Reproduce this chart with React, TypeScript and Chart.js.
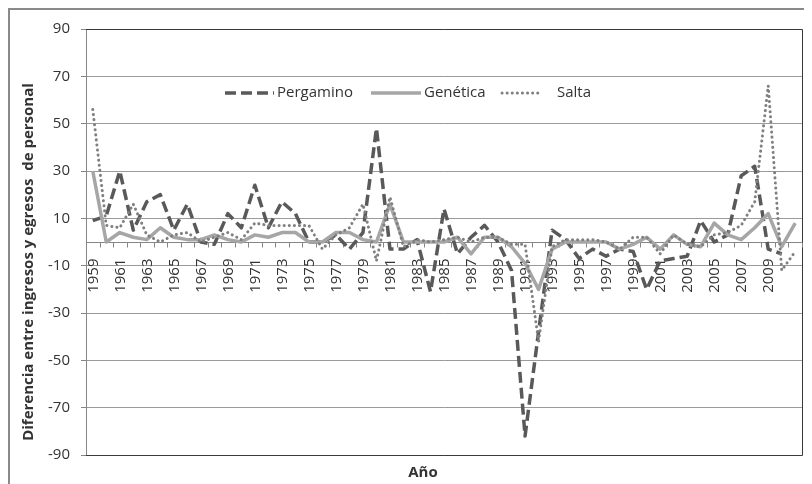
import React, { useEffect, useRef } from 'react';
import { Chart, registerables } from 'chart.js';

Chart.register(...registerables);

// Years on the category axis
const years = [
  '1959', '1960', '1961', '1962', '1963', '1964', '1965', '1966', '1967', '1968',
  '1969', '1970', '1971', '1972', '1973', '1974', '1975', '1976', '1977', '1978',
  '1979', '1980', '1981', '1982', '1983', '1984', '1985', '1986', '1987', '1988',
  '1989', '1990', '1991', '1992', '1993', '1994', '1995', '1996', '1997', '1998',
  '1999', '2000', '2001', '2002', '2003', '2004', '2005', '2006', '2007', '2008',
  '2009', '2010', '2011',
];

// Years that carry a visible tick label
const labeledYears = [
  '1959', '1961', '1963', '1965', '1967', '1969', '1971', '1973', '1975', '1977',
  '1979', '1981', '1983', '1985', '1987', '1989', '1991', '1993', '1995', '1997',
  '1999', '2001', '2003', '2005', '2007', '2009',
];

// Net difference between hires and departures, per year
const pergamino = [
  9, 11, 30, 5, 17, 20, 5, 16, 0, -1,
  12, 6, 24, 6, 17, 12, 0, 0, 3, -3,
  4, 48, -3, -3, 1, -21, 14, -5, 2, 7,
  0, -12, -82, -38, 5, 1, -7, -3, -6, -3,
  -4, -20, -8, -7, -6, 9, 0, 3, 28, 32,
  -3, -5, null,
];

const genetica = [
  30, 0, 4, 2, 1, 6, 2, 1, 1, 3,
  1, 0, 3, 2, 4, 4, 0, 0, 4, 4,
  1, 0, 16, 0, 0, 0, 0, 2, -5, 2,
  2, -2, -9, -20, -3, 0, 0, 0, 0, -3,
  -1, 2, -3, 3, -1, -2, 8, 3, 1, 6,
  12, -2, 8,
];

const salta = [
  56, 7, 6, 16, 3, 0, 3, 4, 0, 2,
  4, 1, 8, 7, 7, 7, 7, -3, 3, 6,
  16, -8, 19, -2, 1, 0, 1, 2, 0, 2,
  2, -1, -1, -42, -2, 1, 1, 1, 0, -3,
  2, 2, -5, 3, -1, -2, 3, 4, 7, 17,
  66, -12, -4,
];

const yTicks = [-90, -70, -50, -30, -10, 10, 30, 50, 70, 90];

const seriesNames = ['Pergamino', 'Genética', 'Salta'];
const yTitle = 'Diferencia entre ingresos y egresos  de personal';
const xTitle = 'Año';

const FONT = "'Open Sans', sans-serif";
const TEXT = '#333333';
const AXIS = '#868686';

// Frame, plot border, category ticks and labels, inline legend and axis titles
const decorations = {
  id: 'decorations',
  beforeDraw(chart: any) {
    const { ctx, width, height } = chart;
    ctx.save();
    ctx.fillStyle = '#ffffff';
    ctx.fillRect(0, 0, width, height);
    ctx.fillStyle = '#8a8a8a';
    ctx.fillRect(0, 0, width, 2);
    ctx.fillRect(0, 0, 2, height);
    ctx.restore();
  },
  beforeDatasetsDraw(chart: any) {
    const { ctx, chartArea: a, scales } = chart;
    const t = Math.round(a.top) + 0.5;
    const b = Math.round(a.bottom) + 0.5;
    const r = Math.round(a.right) + 0.5;
    ctx.save();
    ctx.strokeStyle = '#3a3a3a';
    ctx.lineWidth = 1;
    ctx.beginPath();
    ctx.moveTo(a.left, t);
    ctx.lineTo(r, t);
    ctx.lineTo(r, b);
    ctx.lineTo(a.left, b);
    ctx.stroke();

    // short marks between categories, hanging below the zero line
    const y0 = Math.round(scales.y.getPixelForValue(0)) + 0.5;
    const step = (a.right - a.left) / years.length;
    ctx.strokeStyle = AXIS;
    ctx.beginPath();
    for (let i = 0; i <= years.length; i++) {
      const x = Math.round(a.left + i * step) + 0.5;
      ctx.moveTo(x, y0);
      ctx.lineTo(x, y0 + 5);
    }
    ctx.stroke();

    // vertical year labels under the zero line
    ctx.fillStyle = TEXT;
    ctx.font = `15px ${FONT}`;
    ctx.textAlign = 'right';
    ctx.textBaseline = 'middle';
    years.forEach((yr, i) => {
      if (!labeledYears.includes(yr)) return;
      const x = scales.x.getPixelForValue(i);
      ctx.save();
      ctx.translate(x + 1, y0 + 16);
      ctx.rotate(-Math.PI / 2);
      ctx.fillText(yr, 0, 0);
      ctx.restore();
    });
    ctx.restore();
  },
  afterDatasetsDraw(chart: any) {
    const { ctx } = chart;
    const slots = [
      { x0: 217, x1: 266, tx: 269 },
      { x0: 363, x1: 413, tx: 416 },
      { x0: 494, x1: 530, tx: 549 },
    ];
    const ly = 85;
    ctx.save();
    chart.data.datasets.forEach((ds: any, i: number) => {
      const s = slots[i];
      ctx.beginPath();
      ctx.setLineDash(ds.borderDash || []);
      ctx.lineCap = ds.borderCapStyle || 'butt';
      ctx.lineWidth = ds.borderWidth;
      ctx.strokeStyle = ds.borderColor;
      ctx.moveTo(s.x0, ly);
      ctx.lineTo(s.x1, ly);
      ctx.stroke();
      ctx.setLineDash([]);
      ctx.fillStyle = TEXT;
      ctx.font = `15px ${FONT}`;
      ctx.textAlign = 'left';
      ctx.textBaseline = 'middle';
      ctx.fillText(ds.label, s.tx, ly);
    });

    // axis titles
    ctx.fillStyle = TEXT;
    ctx.font = `bold 15px ${FONT}`;
    ctx.textAlign = 'center';
    ctx.textBaseline = 'middle';
    ctx.save();
    ctx.translate(21, 254);
    ctx.rotate(-Math.PI / 2);
    ctx.fillText(yTitle, 0, 0);
    ctx.restore();
    ctx.fillText(xTitle, 415, 465);
    ctx.restore();
  },
};

export default function App() {
  const ref = useRef<HTMLCanvasElement>(null);

  useEffect(() => {
    document.documentElement.style.overflow = 'hidden';
    document.body.style.overflow = 'hidden';

    const chart = new Chart(ref.current as HTMLCanvasElement, {
      type: 'line',
      data: {
        labels: years,
        datasets: [
          {
            label: seriesNames[0],
            data: pergamino,
            borderColor: '#595959',
            borderWidth: 3.5,
            borderDash: [11, 5],
            borderCapStyle: 'butt',
            order: 3,
          },
          {
            label: seriesNames[1],
            data: genetica,
            borderColor: '#a6a6a6',
            borderWidth: 3.5,
            borderCapStyle: 'butt',
            order: 2,
          },
          {
            label: seriesNames[2],
            data: salta,
            borderColor: '#808080',
            borderWidth: 3,
            borderDash: [0.1, 5],
            borderCapStyle: 'round',
            order: 1,
          },
        ] as any,
      },
      options: {
        responsive: false,
        animation: false,
        events: [],
        layout: { padding: { left: 0, top: 21, right: 10, bottom: 29 } },
        elements: {
          point: { radius: 0 },
          line: { tension: 0, borderJoinStyle: 'round' },
        },
        plugins: {
          legend: { display: false },
          tooltip: { enabled: false },
          title: { display: false },
        },
        scales: {
          x: {
            type: 'category',
            position: { y: 0 } as any,
            offset: true,
            grid: {
              offset: true,
              drawOnChartArea: false,
              drawTicks: false,
            },
            border: { display: true, color: AXIS, width: 1 },
            ticks: { display: false },
            afterFit: (s: any) => {
              s.paddingLeft = 0;
              s.paddingRight = 0;
            },
          },
          y: {
            type: 'linear',
            min: yTicks[0],
            max: yTicks[yTicks.length - 1],
            afterBuildTicks: (s: any) => {
              s.ticks = yTicks.map((v) => ({ value: v }));
            },
            grid: {
              color: '#9a9a9a',
              tickColor: AXIS,
              tickLength: 5,
              drawTicks: true,
            },
            border: { display: true, color: AXIS, width: 1 },
            ticks: {
              padding: 11,
              color: TEXT,
              font: { family: FONT, size: 15 },
            },
            afterFit: (s: any) => {
              s.width = 78;
            },
          },
        },
      },
      plugins: [decorations],
    });

    return () => chart.destroy();
  }, []);

  return (
    <canvas
      ref={ref}
      width={804}
      height={476}
      style={{ display: 'block', width: 804, height: 476 }}
    />
  );
}
